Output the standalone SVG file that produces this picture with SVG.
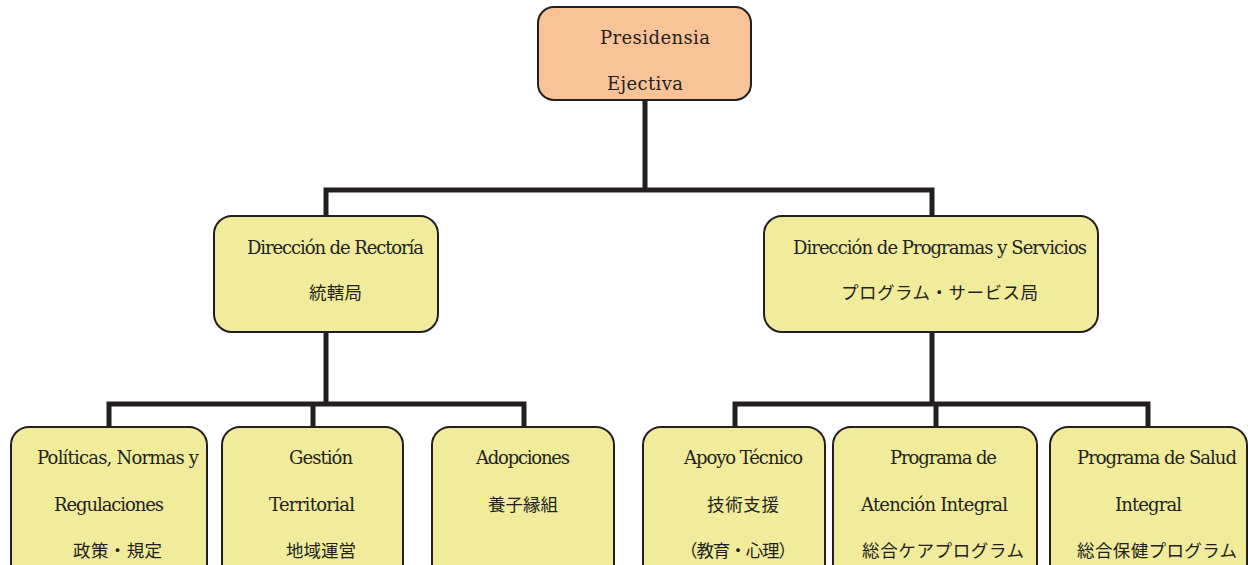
<svg xmlns="http://www.w3.org/2000/svg" width="1248" height="565" viewBox="0 0 1248 565">
  <style>
    .box { stroke: #231f20; stroke-width: 2; }
    .top { fill: #f9c398; }
    .unit { fill: #f0ec9b; }
    .t { font-family: "DejaVu Serif", "Noto Sans CJK JP", serif; font-size: 18px; fill: #231f20; }
    .j { font-family: "Noto Sans CJK JP", sans-serif; font-size: 17.5px; fill: #231f20; }
    .link { fill: none; stroke: #231f20; stroke-width: 5; stroke-linejoin: miter; stroke-linecap: butt; }
  </style>

  <!-- organisational links -->
  <g id="connectors">
    <path class="link" d="M645 100 V190 M326 216 V190 H932 V216"/>
    <path class="link" d="M326 332 V404 M109 427 V404 H524 V427 M313 404 V427"/>
    <path class="link" d="M932 332 V404 M735 427 V404 H1148 V427 M936 404 V427"/>
  </g>

  <g id="presidencia">
    <rect class="box top" x="538" y="7" width="213" height="93" rx="16"/>
    <text class="t" x="600" y="44" textLength="110">Presidensia</text>
    <text class="t" x="607" y="90" textLength="76">Ejectiva</text>
  </g>

  <g id="rectoria">
    <rect class="box unit" x="214" y="216" width="224" height="116" rx="18"/>
    <text class="t" x="247" y="254" textLength="177">Dirección de Rectoría</text>
    <text class="j" x="309" y="299" textLength="53">統轄局</text>
  </g>

  <g id="programas">
    <rect class="box unit" x="764" y="216" width="334" height="116" rx="18"/>
    <text class="t" x="793" y="254" textLength="294">Dirección de Programas y Servicios</text>
    <text class="j" x="841" y="299" textLength="197">プログラム・サービス局</text>
  </g>

  <g id="politicas">
    <rect class="box unit" x="11" y="427" width="196" height="160" rx="18"/>
    <text class="t" x="37" y="464" textLength="162">Políticas, Normas y</text>
    <text class="t" x="54" y="511" textLength="110">Regulaciones</text>
    <text class="j" x="73" y="557" textLength="89">政策・規定</text>
  </g>

  <g id="gestion">
    <rect class="box unit" x="222" y="427" width="181" height="160" rx="18"/>
    <text class="t" x="289" y="464" textLength="64">Gestión</text>
    <text class="t" x="269" y="511" textLength="86">Territorial</text>
    <text class="j" x="286" y="557" textLength="70">地域運営</text>
  </g>

  <g id="adopciones">
    <rect class="box unit" x="432" y="427" width="182" height="160" rx="18"/>
    <text class="t" x="476" y="464" textLength="94">Adopciones</text>
    <text class="j" x="488" y="511" textLength="70">養子縁組</text>
  </g>

  <g id="apoyo">
    <rect class="box unit" x="643" y="427" width="182" height="160" rx="18"/>
    <text class="t" x="684" y="464" textLength="119">Apoyo Técnico</text>
    <text class="j" x="707" y="511" textLength="72">技術支援</text>
    <text class="j" x="680" y="557" textLength="116">（教育・心理）</text>
  </g>

  <g id="atencion">
    <rect class="box unit" x="833" y="427" width="204" height="160" rx="18"/>
    <text class="t" x="890" y="464" textLength="107">Programa de</text>
    <text class="t" x="861" y="511" textLength="147">Atención Integral</text>
    <text class="j" x="862" y="557" textLength="162">総合ケアプログラム</text>
  </g>

  <g id="salud">
    <rect class="box unit" x="1050" y="427" width="197" height="160" rx="18"/>
    <text class="t" x="1077" y="464" textLength="160">Programa de Salud</text>
    <text class="t" x="1115" y="511" textLength="67">Integral</text>
    <text class="j" x="1077" y="557" textLength="160">総合保健プログラム</text>
  </g>
</svg>
